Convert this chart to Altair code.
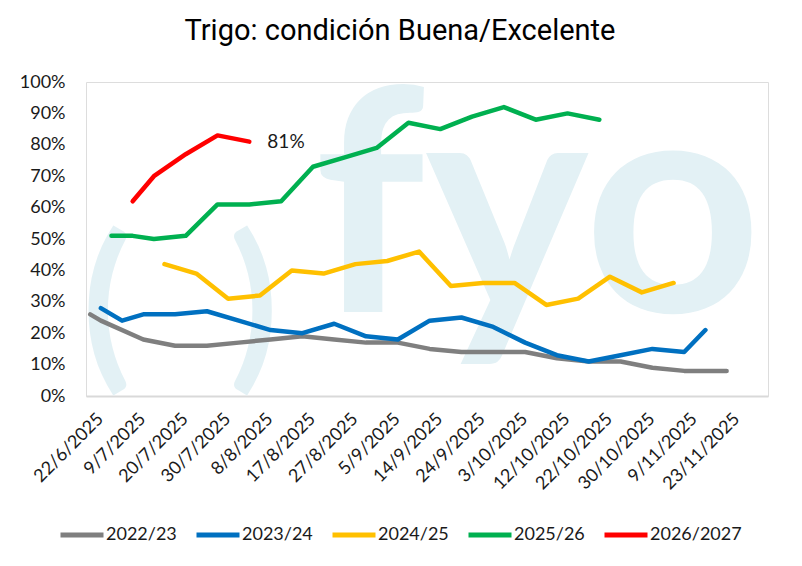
import altair as alt
import pandas as pd

# season series: position on the report axis (index) and % good/excellent
series_names = ["2022/23", "2023/24", "2024/25", "2025/26", "2026/2027"]
series_colors = ["#7f7f7f", "#0070c0", "#ffc000", "#00b050", "#ff0000"]

gray_idx = [0, 1, 5, 8, 11, 14, 17, 20, 23, 26, 29, 32, 35, 38, 41, 44, 47, 50, 53, 56, 60]
gray_val = [26, 24, 18, 16, 16, 17, 18, 19, 18, 17, 17, 15, 14, 14, 14, 12, 11, 11, 9, 8, 8]

blue_idx = [1, 3, 5, 8, 11, 14, 17, 20, 23, 26, 29, 32, 35, 38, 41, 44, 47, 50, 53, 56, 58]
blue_val = [28, 24, 26, 26, 27, 24, 21, 20, 23, 19, 18, 24, 25, 22, 17, 13, 11, 13, 15, 14, 21]

yellow_idx = [7, 10, 13, 16, 19, 22, 25, 28, 31, 34, 37, 40, 43, 46, 49, 52, 55]
yellow_val = [42, 39, 31, 32, 40, 39, 42, 43, 46, 35, 36, 36, 29, 31, 38, 33, 36]

green_idx = [2, 4, 6, 9, 12, 15, 18, 21, 24, 27, 30, 33, 36, 39, 42, 45, 48]
green_val = [51, 51, 50, 51, 61, 61, 62, 73, 76, 79, 87, 85, 89, 92, 88, 90, 88]

red_idx = [4, 6, 9, 12, 15]
red_val = [62, 70, 77, 83, 81]

date_labels = ["22/6/2025", "9/7/2025", "20/7/2025", "30/7/2025", "8/8/2025",
               "17/8/2025", "27/8/2025", "5/9/2025", "14/9/2025", "24/9/2025",
               "3/10/2025", "12/10/2025", "22/10/2025", "30/10/2025", "9/11/2025",
               "23/11/2025"]
label_pos = list(range(0, 61, 4))
y_ticks = list(range(0, 101, 10))

frames = []
for name, idx, val in zip(series_names,
                          [gray_idx, blue_idx, yellow_idx, green_idx, red_idx],
                          [gray_val, blue_val, yellow_val, green_val, red_val]):
    frames.append(pd.DataFrame({"serie": name, "idx": idx, "val": val}))
df = pd.concat(frames, ignore_index=True)

last_df = pd.DataFrame({"idx": [red_idx[-1]], "val": [red_val[-1]],
                        "label": [f"{red_val[-1]}%"]})

label_expr = "[" + ",".join(f"'{d}'" for d in date_labels) + "][datum.value / 4]"

font = "Lato"
width = 682
height = 314

x_enc = alt.X("idx:Q",
              scale=alt.Scale(domain=[-0.4, 63.9], nice=False, zero=False),
              axis=alt.Axis(values=label_pos, labelExpr=label_expr, title=None,
                            labelAngle=-45, labelAlign="right", labelBaseline="middle",
                            labelOffset=10, labelPadding=20, labelOverlap=False,
                            ticks=False, tickSize=0,
                            grid=False, domainColor="#d9d9d9", domainWidth=2,
                            labelFontSize=18, labelFont=font, labelColor="#1a1a1a"))
y_enc = alt.Y("val:Q",
              scale=alt.Scale(domain=[0, 100], nice=False),
              axis=alt.Axis(values=y_ticks, labelExpr="datum.value + '%'", title=None,
                            ticks=False, tickSize=0, domain=False, grid=False,
                            labelOverlap=False,
                            labelPadding=21, labelFontSize=18, labelFont=font,
                            labelColor="#1a1a1a"))

watermark_color = "#e3f1f5"
mark_fyo = alt.Chart(pd.DataFrame({"t": ["fyo"]})).mark_text(
    align="left", baseline="alphabetic", fontSize=310, fontWeight="bold",
    font=font, color=watermark_color
).encode(x=alt.value(228), y=alt.value(230), text="t:N")
mark_open = alt.Chart(pd.DataFrame({"t": ["("]})).mark_text(
    align="left", baseline="alphabetic", fontSize=180, fontWeight="bold",
    font=font, color=watermark_color
).encode(x=alt.value(-4), y=alt.value(285), text="t:N")
mark_close = alt.Chart(pd.DataFrame({"t": [")"]})).mark_text(
    align="left", baseline="alphabetic", fontSize=180, fontWeight="bold",
    font=font, color=watermark_color
).encode(x=alt.value(143), y=alt.value(285), text="t:N")

lines = alt.Chart(df).mark_line(strokeWidth=4.5, strokeCap="round", strokeJoin="round").encode(
    x=x_enc,
    y=y_enc,
    color=alt.Color("serie:N",
                    scale=alt.Scale(domain=series_names, range=series_colors),
                    legend=alt.Legend(title=None, orient="none", direction="horizontal",
                                      legendX=-28, legendY=429,
                                      symbolType="stroke", symbolSize=1849,
                                      symbolStrokeWidth=5, labelOffset=0,
                                      columnPadding=9, labelFontSize=18,
                                      labelFont=font, labelColor="#1a1a1a")),
    detail="serie:N",
)

last_label = alt.Chart(last_df).mark_text(
    align="left", baseline="middle", dx=18, fontSize=19, font=font, color="#1a1a1a"
).encode(x=x_enc, y=y_enc, text="label:N")

chart = alt.layer(mark_open, mark_close, mark_fyo, lines, last_label).properties(
    width=width,
    height=height,
    autosize=alt.AutoSizeParams(type="none"),
    padding={"left": 78, "top": 74, "right": 26, "bottom": 162},
    title=alt.TitleParams("Trigo: condición Buena/Excelente", anchor="middle", dx=-27,
                          offset=18, fontSize=29, fontWeight="normal",
                          font="Roboto", color="#000000"),
).configure_view(stroke=None).configure(background="white")

chart.save("out.html", embed_options={"renderer": "svg", "actions": False})
